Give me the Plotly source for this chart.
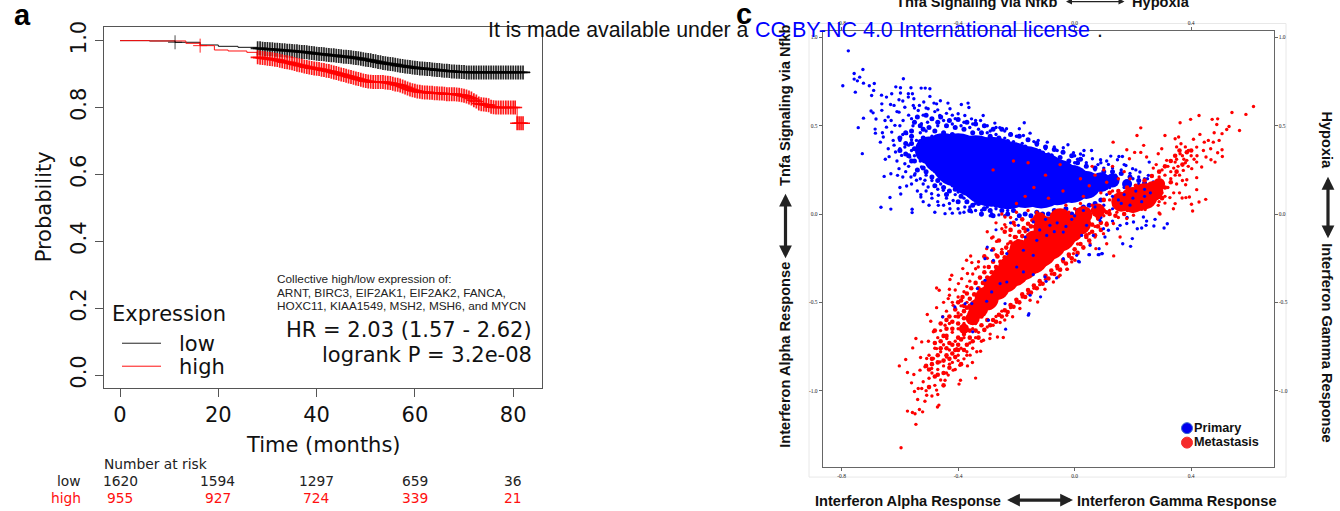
import plotly.graph_objects as go

W, H = 1340, 511
TOP = 40  # extra canvas above the window so the top caption can be cut by the window edge

# ---------- panel a data ----------
x_ticks_a = [0, 20, 40, 60, 80]
y_ticks_a = [0.0, 0.2, 0.4, 0.6, 0.8, 1.0]
low_early_t = [0, 6, 11.2, 16.3, 20, 24, 27.9]
low_early_p = [1, .999, .995, .987, .983, .980, .977]
high_early_t = [0, 6, 13.4, 16.3, 19.2, 22, 25.8, 27.9]
high_early_p = [1, .999, .992, .985, .972, .969, .965, .950]
low_single_t = [11.2]
low_single_p = [.995]
high_single_t = [16.3]
high_single_p = [.985]
low_t = [28,28.5,29,29.5,30,30.5,31,31.5,32,32.5, 33,33.5,34,34.5,35,35.5,36,36.5,37,37.5,
         38,38.5,39,39.5,40,40.5,41,41.5,42,42.5, 43,43.5,44,44.5,45,45.5,46,46.5,47,47.5,
         48,48.5,49,49.5,50,50.5,51,51.5,52,52.5, 53,53.5,54,54.5,55,55.5,56,56.5,57,57.5,
         58,58.5,59,59.5,60,60.5,61,61.5,62,62.5, 63,63.5,64,64.5,65,65.5,66,66.5,67,67.5,
         68,68.5,69,69.5,70,70.5,71,71.5,72,72.5, 73,73.5,74,74.5,75,75.5,76,76.5,77,77.5,
         78,78.5,79,79.5,80,80.5,81,81.5,82]
low_p = [.977,.977,.976,.975,.975,.974,.974,.973,.973,.972, .971,.971,.970,.970,.969,.968,.968,.967,.966,.966,
         .965,.964,.963,.962,.961,.960,.960,.959,.958,.957, .956,.956,.955,.954,.953,.952,.952,.951,.950,.949,
         .948,.947,.946,.944,.943,.942,.941,.939,.938,.936, .935,.933,.932,.931,.930,.929,.928,.926,.925,.924,
         .923,.922,.921,.920,.919,.918,.917,.917,.916,.915, .915,.914,.913,.912,.912,.911,.910,.910,.909,.908,
         .908,.907,.907,.906,.906,.905,.905,.905,.905,.905, .905,.905,.905,.905,.905,.905,.905,.905,.905,.905,
         .905,.905,.905,.905,.905,.905,.905,.905,.905]
low_end_t = [83.5]
low_end_p = [.905]
high_t = [28,28.5,29,29.5,30,30.5,31,31.5,32,32.5, 33,33.5,34,34.5,35,35.5,36,36.5,37,37.5,
          38,38.5,39,39.5,40,40.5,41,41.5,42,42.5, 43,43.5,44,44.5,45,45.5,46,46.5,47,47.5,
          48,48.5,49,49.5,50,50.5,51,51.5,52,52.5, 53,53.5,54,54.5,55,55.5,56,56.5,57,57.5,
          58,58.5,59,59.5,60,60.5,61,61.5,62,62.5, 63,63.5,64,64.5,65,65.5,66,66.5,67,67.5,
          68,68.5,69,69.5,70,70.5,71,71.5,72,72.5, 73,73.5,74,74.5,75,75.5,76,76.5,77,77.5,
          78,78.5,79,79.5,80,80.4, 80.8,81.2,81.6,82]
high_p = [.950,.949,.948,.947,.946,.945,.944,.943,.942,.940, .938,.936,.935,.934,.932,.930,.928,.926,.925,.923,
          .921,.920,.918,.917,.916,.915,.913,.912,.910,.909, .907,.905,.903,.901,.899,.897,.895,.893,.891,.889,
          .887,.885,.883,.881,.879,.878,.877,.876,.876,.876, .876,.876,.875,.874,.873,.871,.869,.868,.866,.863,
          .860,.857,.854,.852,.850,.848,.847,.846,.845,.845, .844,.844,.843,.843,.842,.842,.841,.840,.840,.840,
          .840,.839,.838,.837,.835,.833,.830,.827,.822,.818, .812,.810,.809,.808,.807,.802,.801,.800,.800,.800,
          .800,.800,.800,.800,.800,.800, .753,.753,.753,.753]
high_end_t = [82.9]
high_end_p = [.753]
risk_low = ["1620", "1594", "1297", "659", "36"]
risk_high = ["955", "927", "724", "339", "21"]

# ---------- panel c data ----------
x_ticks_c = [-0.8, -0.4, 0.0, 0.4]
x_labels_c = ["-0.8", "-0.4", "0.0", "0.4"]
y_ticks_c = [1.0, 0.5, 0.0, -0.5, -1.0]
y_labels_c = ["1.0", "0.5", "0.0", "-0.5", "-1.0"]

blue_core = [(-.50,.36),(-.45,.34),(-.40,.305),(-.34,.27),(-.285,.24),(-.23,.22),(-.17,.21),(-.115,.19),(-.06,.18),(-.01,.17),(.04,.165),(.09,.18),(.13,.19),(.18,.17)]
red_core = [(-.38,-.65),(-.35,-.59),(-.331,-.535),(-.302,-.479),(-.268,-.413),(-.239,-.366),(-.21,-.319),(-.182,-.281),(-.147,-.243),(-.119,-.205),
            (-.085,-.168),(-.05,-.121),(-.016,-.083),(.018,-.055),(-.10,-.08),(-.14,-.15),(-.19,-.2),(-.05,-.03),(.03,-.005),(.08,.02),(-.12,-.03),
            (.16,.07),(.20,.08),(.24,.10),(.27,.13),(.29,.17)]
blue_clumps = [(-.56,.47),(-.53,.50),(-.50,.49),(-.47,.52),(-.44,.50),(-.41,.49),(-.38,.48),(-.35,.46),(-.32,.46),(-.29,.44),(-.26,.43),(-.23,.41),(-.20,.39),(-.17,.38),
 (-.14,.36),(-.11,.345),(-.08,.33),(-.05,.32),(-.02,.30),(.01,.29),(.04,.27),(.07,.26),(.10,.24),(.13,.24),(.16,.23),(.19,.21),(.22,.19),(.24,.175),
 (-.56,.30),(-.54,.25),(-.51,.24),(-.49,.21),(-.47,.19),(-.45,.15),(-.43,.13),(-.41,.14),(-.39,.10),(-.37,.07),(-.35,.05),(-.33,.06),(-.31,.03),(-.29,.02),(-.27,.05),
 (-.25,.02),(-.23,.0),(-.21,.02),(-.19,-.01),(-.17,.0),(-.15,-.01),(-.13,.01),(-.11,.0),(-.09,.0),(-.07,.02),(-.05,.0),(-.03,.03),(-.01,.0),(.01,.02),(.03,.04),(.05,.05),(.07,.06),(.09,.08),
 (-.58,.40),(-.6,.43),(-.58,.46),(-.55,.37),(-.57,.33),(-.53,.41),(-.56,.44),(-.6,.36),
 (-.54,.55),(-.51,.56),(-.49,.54),(-.46,.55),(-.43,.53),(-.40,.535),(-.37,.52),(-.34,.51),(-.31,.50),(-.28,.48),(-.25,.48),(-.22,.45),(-.19,.44),(-.16,.42),(-.13,.40),(-.10,.38),(-.07,.365),
 (-.04,.35),(-.01,.33),(.02,.31),(-.55,.52),(-.52,.48),(-.48,.47),(-.45,.46),(-.42,.45),(-.56,.40),(-.53,.36),(-.50,.32),(-.47,.28),(-.44,.24),(-.52,.43),(-.49,.39),(-.46,.42),(-.58,.34),
 (-.55,.30),(-.52,.26),(-.48,.16),(-.44,.11),(-.40,.07),(-.36,.02),(-.32,.0),(-.28,-.01)]
red_clumps = [(-.40,-.50),(-.385,-.47),(-.37,-.45),(-.355,-.42),(-.34,-.39),(-.325,-.36),(-.31,-.33),(-.295,-.30),(-.28,-.27),(-.265,-.24),(-.25,-.22),(-.235,-.19),(-.22,-.16),
 (-.205,-.13),(-.19,-.10),(-.175,-.08),(-.16,-.055),(-.145,-.035),(-.13,-.02),(-.115,-.015),
 (-.31,-.655),(-.29,-.63),(-.27,-.61),(-.25,-.58),(-.23,-.555),(-.21,-.525),(-.19,-.50),(-.17,-.47),(-.15,-.445),(-.13,-.42),(-.11,-.395),(-.09,-.365),(-.07,-.34),(-.05,-.315),
 (-.03,-.28),(-.01,-.25),(.01,-.22),(.03,-.19),(.05,-.15),(.07,-.12),(.09,-.09),(.11,-.06),
 (-.46,-.72),(-.44,-.76),(-.42,-.79),(-.40,-.74),(-.38,-.77),(-.36,-.70),(-.44,-.69),(-.42,-.65),(-.40,-.62),(-.38,-.59),(-.36,-.56),(-.34,-.66),(-.32,-.63),(-.30,-.60),(-.43,-.58),
 (-.41,-.54),(-.39,-.49),(-.37,-.53),(-.45,-.83),(-.43,-.87),(-.41,-.81),(-.39,-.85),(-.47,-.80),(-.49,-.85),(-.47,-.91),(-.50,-.88),(-.45,-.97),
 (.10,.02),(.12,.0),(.14,-.01),(.17,.0),(.20,.02),(.23,.03),(.25,.06),(.27,.08),(.285,.10),(.10,.08),(.12,.12),(.15,.13),(.18,.15),(.21,.16),(.24,.19),(.265,.215),(.29,.24),(.31,.27),
 (.33,.30),(.345,.33),(.36,.36),(.385,.35),(.40,.36),(.37,.28),(.35,.24),(.33,.18),(.31,.15),(.30,.09),
 (-.48,-.73),(-.45,-.69),(-.43,-.73),(-.41,-.77),(-.39,-.71),(-.37,-.74),(-.35,-.72),(-.33,-.70),(-.44,-.65),(-.42,-.61),(-.40,-.58),(-.38,-.55),(-.36,-.52),(-.44,-.60),(-.46,-.62),(-.48,-.66),
 (-.46,-.76),(-.44,-.80),(-.42,-.74),(-.40,-.70),(-.38,-.68),(-.36,-.66),(-.34,-.60),(-.32,-.58),(-.40,-.77),(-.47,-.84),(-.45,-.90),(-.43,-.82),(-.49,-.82),(-.51,-.86),(-.48,-.92),(-.50,-.98),
 (-.02,-.02),(.02,-.03),(.05,-.01),(.08,-.02),(.11,.01),(.06,-.06),(.09,-.05),(.02,-.09),(.04,-.12),(.0,-.14),(-.18,-.03),(-.21,-.05),(-.24,-.10),(-.26,-.15),(-.22,-.09),(-.28,-.20),(-.31,-.24),
 (-.28,-.60),(-.26,-.57),(-.24,-.545),(-.22,-.515),(-.20,-.485),(-.18,-.455),(-.16,-.43),(-.14,-.405),(-.12,-.38),(-.10,-.35),(-.08,-.32),(-.06,-.295),(-.04,-.26),(-.02,-.23),(.0,-.20),(.02,-.17),(.04,-.13),(.06,-.10),(.08,-.07),
 (-.38,-.52),(-.36,-.48),(-.345,-.455),(-.33,-.42),(-.315,-.39),(-.30,-.36),(-.285,-.33),(-.27,-.30),(-.255,-.27),(-.24,-.245),(-.225,-.215),(-.21,-.185),(-.195,-.155),(-.18,-.125),(-.165,-.09),(-.15,-.07)]
blue_points = [(-.777,.924),(-.727,.818),(-.757,.796),(-.738,.775),(-.757,.764),(-.746,.754),(-.796,.726),(-.725,.741),(-.705,.726),(-.688,.739),
 (-.690,.700),(-.753,.690),(-.697,.671),(-.588,.766),(-.614,.720),(-.598,.715),(-.562,.715),(-.527,.713),(-.513,.713),(-.497,.709),
 (-.725,.543),(-.743,.489),(-.729,.342),(-.699,.583),(-.692,.573),(-.682,.538),(-.685,.481),(-.684,.458),(-.663,.673),(-.662,.624),
 (-.662,.587),(-.646,.662),(-.628,.681),(-.632,.620),(-.620,.615),(-.651,.530),(-.646,.492),(-.657,.436),(-.667,.407),(-.637,.325),
 (-.623,.417),(-.615,.351),(-.654,.213),(-.631,.228),(-.608,.219),(-.603,.257),(-.634,.094),(-.665,.038),(-.631,.028),(-.558,.027),
 (-.558,.008),(-.597,.113),(-.577,.159),(-.528,.110),(-.528,.096),(-.491,.115),(-.468,.106),(-.503,.153),(-.543,.191),(-.562,.210),
 (-.583,.285),(-.594,.332),(-.566,.323),(-.548,.228),(-.526,.266),(-.514,.191),(-.451,.134),(-.445,.002),(-.428,.030),(-.468,.049),
 (-.394,.006),(-.354,.012),(-.377,.040),(-.319,.021),(-.417,.077),(-.342,.059),(-.400,.125),(-.285,.002),
 (-.603,.647),(-.598,.685),(-.571,.681),(-.557,.681),(-.552,.653),(-.571,.662),(-.554,.615),(-.533,.615),(-.518,.634),(-.497,.666),
 (-.483,.628),(-.461,.641),(-.474,.624),(-.435,.628),(-.389,.620),(-.366,.628),(-.363,.603),(-.428,.596),(-.400,.568),(-.377,.558),
 (-.354,.539),(-.314,.558),(-.323,.530),(-.274,.515),(-.257,.489),(-.173,.517),(-.190,.483),(-.234,.483),(-.153,.458),(-.125,.417),
 (-.176,.445),(-.603,.577),(-.583,.605),(-.537,.586),(-.503,.596),(-.617,.502),(-.589,.530),(-.628,.464),(-.600,.417),(-.577,.455),
 (-.583,.379),(-.560,.360),(-.543,.417),(-.526,.511),(-.491,.539),(-.463,.558),
 (-.51,.47),(-.49,.44),(-.53,.46),(-.555,.50),(-.505,.52),(-.47,.50),(-.45,.53),(-.42,.51),(-.39,.50),(-.36,.49),(-.33,.48),(-.30,.46),(-.27,.45),
 (-.24,.43),(-.21,.41),(-.18,.40),(-.15,.37),(-.12,.36),(-.09,.34),(-.57,.39),(-.55,.33),(-.53,.30),(-.50,.27),(-.48,.24),(-.56,.42),(-.51,.22),(-.49,.19),
 (-.46,.17),(-.44,.20),(-.42,.16),(-.41,.11),(-.38,.09),(-.37,.13),(-.35,.10),(-.33,.08),(-.31,.07),(-.30,.04),(-.27,.03),(-.25,.05),(-.23,.02),
 (-.44,.09),(-.47,.14),(-.52,.17),(-.58,.24),(-.61,.30),(-.60,.37),(-.62,.39),(-.59,.45),(-.60,.50),(-.57,.56),(-.56,.54),(-.54,.55),(-.52,.56),
 (-.48,.58),(-.44,.57),(-.41,.54),(-.38,.52),(-.35,.51),(-.30,.50),(-.29,.47),(-.22,.455),(-.20,.44),(-.13,.39),(-.10,.37),(-.06,.36),(-.094,.407),(-.023,.392),(-.039,.375),
 (.032,.360),(.058,.360),(-.004,.347),(.030,.332),(.061,.313),(.089,.307),(.124,.328),(.152,.326),(.164,.326),(.147,.307),(.116,.281),(.176,.275),(.199,.257),(.224,.238),
 (.256,.294),(.253,.219),(.270,.181),(.01,.31),(.04,.29),(.08,.28),(.10,.26),(.13,.26),(.16,.25),(.19,.23),(.22,.21),(.24,.20),(.00,.29),(.07,.25),
 (-.59,.21),(-.57,.27),(-.55,.22),(-.53,.20),(-.51,.13),(-.49,.09),(-.47,.07),(-.45,.05),(-.43,.06),(-.40,.03),(-.38,.01),(-.36,.04),(-.34,.02),(-.32,-.005),(-.29,-.01),(-.26,-.005),(-.24,-.01),
 (-.54,.13),(-.56,.17),(-.60,.15),(-.52,.07),(-.50,.05),(-.48,.01),(-.42,.005),(-.65,.31),(-.64,.37),(-.66,.46),(-.64,.55),(-.63,.53),(-.61,.58),(-.59,.64),(-.55,.60),(-.51,.60),(-.47,.59),(-.42,.56),
 (-.34,.53),(-.27,.49),(-.24,.47),(-.16,.42),(-.14,.41),(-.07,.38),(.0,.33),(.02,.34),(.09,.29),(.11,.30),(.17,.28),(.21,.25),
 (.307,-.079),(.318,-.055),(.276,-.030),(.272,-.068),(.245,-.064),(.247,-.040),(.230,-.079),(.215,-.083),(.192,-.183),(.198,-.139),(.165,-.168),(.093,-.224),(.081,-.230),
 (.049,-.230),(.016,-.271),(.156,-.064),(.147,-.083),(.116,-.092),(.179,-.054),(.104,-.130),(.202,-.045),(.236,-.017),
 (.14,.22),(.2,.2),(.22,.17),(.17,.15),(.25,.2),(.12,.15),(.16,.03),(.2,.06),(.1,.05),(.06,.02),(.09,-.02),(.13,-.04),(.18,-.02)]
red_points = [(.614,.609),(.588,.564),(.540,.575),(.427,.558),(.398,.536),(.362,.517),(.472,.536),(.491,.539),(.488,.507),(.530,.496),
 (.522,.479),(.566,.473),(.479,.460),(.506,.455),(.227,.488),(.214,.445),(.310,.445),(.132,.407),(.237,.389),(.179,.364),(.206,.349),(.227,.349),
 (.188,.313),(.247,.323),(.287,.341),(.299,.370),(.345,.426),(.357,.436),(.365,.398),(.408,.423),(.430,.451),(.445,.407),(.459,.417),(.476,.407),
 (.496,.417),(.467,.370),(.491,.347),(.506,.364),(.507,.326),(.482,.294),(.468,.307),(.451,.323),(.442,.360),(.419,.379),(.390,.360),(.362,.341),
 (.385,.304),(.419,.294),(.436,.266),(.402,.257),(.419,.206),(.373,.247),(.345,.294),(.316,.304),(.385,.194),(.381,.166),(.419,.138),(.394,.096),
 (.382,.093),(.369,.091),(.450,.083),(.427,.068),(.401,.055),(.405,.017),(.345,.059),(.339,.030),(.310,.062),(.293,0),(.327,.093),(.282,.134),(.287,.049),(.134,-.237),
 (.30,.25),(.32,.27),(.34,.26),(.35,.31),(.37,.33),(.38,.29),(.36,.22),(.33,.20),(.35,.17),(.32,.15),(.30,.12),(.34,.12),(.36,.12),(.31,.22),(.29,.21),
 (.33,.24),(.355,.27),(.375,.31),(.40,.33),(.39,.27),(.41,.31),(.37,.19),(.345,.22),(.29,.07),(.31,.10),(.27,.26),(.28,.28),(.35,.38),(.38,.38),(.42,.33),
 (.290,.006),(.276,.096),(.259,.049),(.242,.025),(.202,-.007),(.179,-.026),(.156,-.130),(.110,-.168),(.073,-.196),(.053,-.168),(.001,-.262),(-.025,-.313),(-.050,-.347),
 (-.004,-.224),(.030,-.187),(.070,-.130),(.099,-.111),(.133,-.054),
 (.02,.2),(.05,.16),(.07,.22),(.09,.12),(.11,.18),(.12,.08),(.03,.1),(.06,.05),(.0,.03),(.04,-.02),(.09,.02),(.13,.13),(.15,.2),(.17,.24),(.19,.2),(.1,.25),(.13,.27),
 (-.03,.05),(-.06,.02),(-.09,.09),(-.04,.13),(.02,.06),(.08,-.03),(.11,-.05),(.15,-.02),(.18,.02),(.16,.1),(.06,.27),(-.05,.28),(-.1,.22),(-.14,.15),(-.17,.1),(-.2,.06),
 (-.28,.25),(-.21,.3),(-.16,.29),(-.02,.01),(.01,-.01),(.035,.03),(.07,.0),(.1,-.01),(.12,.02),(.145,.01),(.05,-.05),(.01,-.05),(-.03,-.02),(.04,-.09),(.07,-.07),(.02,-.12),(.05,-.11),(-.02,-.15),
 (.01,-.17),(-.04,-.19),(-.01,-.10),(-.13,.01),(-.16,.02),(-.2,.01),(-.25,.0),(-.22,-.02),(-.27,-.05),(-.30,-.10),(-.24,-.06),(-.28,-.13),
 (-.596,-1.323),(-.545,-1.191),(-.574,-1.116),(-.557,-1.124),(-.548,-1.131),(-.533,-1.107),(-.522,-1.120),(-.466,-1.082),(-.471,-1.093),(-.539,-1.050),(-.514,-1.060),(-.508,-1.026),
 (-.470,-1.022),(-.550,-1.005),(-.537,-.988),(-.525,-.988),(-.560,-.956),(-.552,-.909),(-.574,-.897),(-.602,-.860),(-.580,-.824),(-.531,-.884),(-.514,-.865),(-.529,-.812),
 (-.556,-.758),(-.545,-.705),(-.525,-.724),(-.508,-.818),(-.491,-.875),(-.474,-.997),(-.445,-.941),(-.397,-.963),(-.392,-.941),(-.340,-.929),(-.434,-.912),(-.417,-.884),
 (-.462,-.837),(-.485,-.818),(-.474,-.762),(-.502,-.720),(-.485,-.667),(-.494,-.607),(-.506,-.569),(-.474,-.530),(-.453,-.582),(-.474,-.419),(-.465,-.432),(-.430,-.426),
 (-.428,-.371),(-.422,-.347),(-.399,-.394),(-.388,-.366),(-.368,-.337),(-.384,-.309),(-.353,-.275),(-.371,-.262),(-.357,-.238),(-.331,-.300),(-.434,-.479),(-.417,-.517),
 (-.445,-.630),(-.439,-.705),(-.405,-.762),(-.359,-.799),(-.368,-.860),(-.394,-.856),(-.351,-.841),(-.336,-.780),(-.323,-.777),(-.313,-.715),(-.291,-.705),(-.265,-.696),
 (-.245,-.699),(-.256,-.614),(-.233,-.573),(-.213,-.582),(-.188,-.535),(-.153,-.488),(-.127,-.498),(-.102,-.426),(-.073,-.385),(-.056,-.356),(-.027,-.313),(-.010,-.271),
 (-.302,-.196),(-.285,-.136),(-.268,-.155),(-.250,-.083),(-.239,-.017),(-.236,-.074),(-.205,-.064),(-.222,-.121),
 (-.46,-.78),(-.45,-.74),(-.44,-.81),(-.43,-.77),(-.42,-.84),(-.41,-.72),(-.40,-.80),(-.39,-.76),(-.38,-.70),(-.37,-.78),(-.36,-.73),(-.35,-.76),(-.34,-.70),(-.42,-.67),(-.40,-.65),(-.38,-.62),
 (-.43,-.62),(-.41,-.58),(-.39,-.57),(-.37,-.66),(-.36,-.60),(-.35,-.65),(-.34,-.62),(-.33,-.67),(-.32,-.72),(-.31,-.66),(-.30,-.64),(-.29,-.68),(-.28,-.63),(-.47,-.70),(-.48,-.76),(-.50,-.80),
 (-.49,-.90),(-.47,-.88),(-.45,-.86),(-.44,-.90),(-.46,-.94),(-.48,-.97),(-.50,-.93),(-.52,-.95),(-.51,-1.0),(-.49,-1.03),(-.43,-.85),(-.41,-.88),(-.40,-.83),(-.38,-.82),(-.37,-.80),(-.46,-.66),
 (-.44,-.55),(-.42,-.50),(-.40,-.47),(-.41,-.43),(-.39,-.52),(-.38,-.44),(-.37,-.41),(-.36,-.38),(-.35,-.34),(-.34,-.31),(-.33,-.27),(-.37,-.50),(-.45,-.50),(-.43,-.46),(-.40,-.56),
 (-.27,-.58),(-.25,-.55),(-.24,-.60),(-.22,-.53),(-.20,-.50),(-.18,-.47),(-.16,-.45),(-.14,-.42),(-.12,-.40),(-.10,-.37),(-.08,-.34),(-.06,-.31),(-.04,-.27),(-.02,-.24),(0,-.20),
 (-.31,-.30),(-.30,-.25),(-.27,-.23),(-.25,-.20),(-.23,-.17),(-.20,-.13),(-.17,-.10),(-.14,-.07),(-.11,-.04),(-.08,-.02)]
blue_over_red = [(-.270,-.089),(-.300,-.187),(-.285,-.205),(-.308,-.253),(-.279,-.262),(-.334,-.422),(-.308,-.375),(-.256,-.394),(-.233,-.385),(-.376,-.507),
 (-.353,-.507),(-.411,-.526),(-.453,-.582),(-.296,-.601),(-.350,-.667),(-.237,-.652),(-.157,-.564),(-.159,-.573),(-.117,-.469),(-.302,-.494),(-.239,-.507),(-.285,-.441),
 (-.153,-.460),(-.098,-.381),(-.062,-.362),(-.102,-.356),(-.142,-.343),(-.176,-.328),(-.199,-.300),(-.233,-.224),(-.176,-.205),(-.142,-.234),(-.170,-.130),(-.130,-.149),
 (-.096,-.121),(-.193,-.064),(-.142,-.045),(-.039,-.253),(.013,-.268),(.051,-.230),(.084,-.230),(.095,-.224),(.084,-.196),(.053,-.177),(.007,-.234),(.024,-.121),(.064,-.121),
 (.099,-.083),(-.039,-.102),(-.085,-.064),(.041,-.064),(.087,-.036),(-.12,-.09),(-.07,-.10),(-.03,-.07),(-.10,-.03),(-.06,-.05),(-.01,-.03),(-.16,-.09),(-.20,-.03),(-.22,-.05),
 (.13,.10),(.17,.11),(.21,.13),(.24,.14),(.15,.08),(.19,.05),(.23,.07),(.11,.11),(.26,.12),(.20,.09),(.16,.06),(.13,.03),(.24,.10),(.03,.02),(.07,.04),(.0,-.01)]
blue_core_size = [28, 42, 54, 62, 70, 68, 62, 56, 46, 38, 28, 20, 14, 10]
red_core_size = [10, 14, 20, 24, 26, 28, 32, 34, 34, 34, 32, 32, 28, 22, 24, 20, 20, 22, 18, 14, 14, 20, 26, 26, 20, 12]

def xs(p): return [a for a, _ in p]
def ys(p): return [b for _, b in p]
FH = H + TOP
def px(x): return x / W
def py(y): return 1 - ((y - 5) * 1.01 + TOP) / FH

fig = go.Figure()

BLACK_SANS = "DejaVu Sans"
ARIAL = "Liberation Sans"

# panel a
fig.add_trace(go.Scatter(x=low_early_t + low_t + low_end_t, y=low_early_p + low_p + low_end_p, mode="lines",
                         line=dict(color="#111111", width=1, shape="hv"), xaxis="x", yaxis="y", showlegend=False))
fig.add_trace(go.Scatter(x=high_early_t + high_t + high_end_t, y=high_early_p + high_p + high_end_p, mode="lines",
                         line=dict(color="#ff1010", width=1, shape="hv"), xaxis="x", yaxis="y", showlegend=False))
fig.add_trace(go.Scatter(x=low_single_t, y=low_single_p, mode="markers",
                         marker=dict(symbol="cross-thin", size=10, line=dict(color="rgba(0,0,0,.7)", width=1)), xaxis="x", yaxis="y", showlegend=False))
fig.add_trace(go.Scatter(x=high_single_t, y=high_single_p, mode="markers",
                         marker=dict(symbol="cross-thin", size=10, line=dict(color="rgba(255,0,0,.85)", width=1)), xaxis="x", yaxis="y", showlegend=False))
fig.add_trace(go.Scatter(x=low_t, y=low_p, mode="markers",
                         marker=dict(symbol="cross-thin", size=10, line=dict(color="rgba(0,0,0,.85)", width=1.7)), xaxis="x", yaxis="y", showlegend=False))
fig.add_trace(go.Scatter(x=high_t, y=high_p, mode="markers",
                         marker=dict(symbol="cross-thin", size=10, line=dict(color="rgba(255,0,0,.9)", width=1.7)), xaxis="x", yaxis="y", showlegend=False))

# panel c
def dots(p, color, size):
    fig.add_trace(go.Scatter(x=xs(p), y=ys(p), mode="markers", marker=dict(color=color, size=size, opacity=1, line=dict(width=0)),
                             xaxis="x2", yaxis="y2", showlegend=False))

dots(blue_core, "#0000ff", blue_core_size)
dots(blue_clumps, "#0000ff", 5)
dots(blue_points, "#0000ff", 3.4)
dots(red_core, "#ff0000", red_core_size)
dots(red_clumps, "#ff0000", 4.6)
dots(red_points, "#ff0000", 3.4)
dots(blue_over_red, "#0000ff", 3.2)
fig.add_trace(go.Scatter(x=[], y=[], xaxis="x3", yaxis="y3", showlegend=False))

axis_a = dict(showgrid=False, zeroline=False, showline=True, linecolor="#555555", linewidth=1, mirror=True,
              ticks="outside", ticklen=8, tickcolor="#555555", tickfont=dict(family=BLACK_SANS, size=21, color="#111111"))
axis_c = dict(showgrid=False, zeroline=False, showline=True, linecolor="#666666", linewidth=1,
              ticks="outside", ticklen=3, tickcolor="#666666", tickwidth=.6,
              tickfont=dict(family="Liberation Serif", size=5.5, color="#222222"))

fig.update_layout(
    width=W, height=FH, autosize=False, margin=dict(l=0, r=0, t=0, b=0), paper_bgcolor="white", plot_bgcolor="white",
    showlegend=False,
    xaxis=dict(axis_a, domain=[px(103.6), px(542)], range=[-3.34, 85.86], tickvals=x_ticks_a, anchor="y"),
    yaxis=dict(axis_a, domain=[py(388), py(26.7)], range=[-0.039, 1.04], tickvals=y_ticks_a, tickformat=".1f", tickangle=-90, anchor="x"),
    xaxis2=dict(axis_c, domain=[px(822.7), px(1273.6)], range=[-.865, .683], tickvals=x_ticks_c, ticktext=x_labels_c, anchor="y2"),
    yaxis2=dict(axis_c, domain=[py(467), py(30.7)], range=[-1.433, 1.035], tickvals=y_ticks_c, ticktext=y_labels_c, anchor="x2"),
    xaxis3=dict(axis_c, domain=[px(822.7), px(1273.6)], range=[-.865, .683], tickvals=x_ticks_c, ticktext=x_labels_c, anchor="y3", overlaying="x2", side="top"),
    yaxis3=dict(axis_c, domain=[py(467), py(30.7)], range=[-1.433, 1.035], tickvals=y_ticks_c, ticktext=y_labels_c, anchor="x3", overlaying="y2", side="right"),
)

def text(t, x, y, size, family=BLACK_SANS, color="#111111", anchor="center", angle=0, bold=False):
    fig.add_annotation(text=f"<b>{t}</b>" if bold else t, x=px(x), y=py(y), xref="paper", yref="paper", showarrow=False,
                       xanchor=anchor, yanchor="middle", textangle=angle, font=dict(family=family, size=size, color=color), borderpad=0, borderwidth=0)

def arrow(x0, y0, x1, y1, width=3.2, size=.8, color="#222222"):
    fig.add_annotation(x=px(x1), y=py(y1), xref="paper", yref="paper", ax=x0 - x1, ay=y0 - y1, axref="pixel", ayref="pixel", text="",
                       showarrow=True, arrowhead=2, arrowside="end+start", arrowsize=size, arrowwidth=width, arrowcolor=color)

# panel a texts
text("a", 22, 14, 29, ARIAL, "black", bold=True)
text("Probability", 44, 207, 21, angle=-90)
text("Time (months)", 323, 445, 21)
text("Expression", 169, 314, 21)
text("low", 179, 344, 21, anchor="left")
text("high", 179, 367, 21, anchor="left")
fig.add_shape(type="line", xref="paper", yref="paper", x0=px(122), x1=px(161), y0=py(343), y1=py(343), line=dict(color="#222222", width=1))
fig.add_shape(type="line", xref="paper", yref="paper", x0=px(122), x1=px(161), y0=py(366), y1=py(366), line=dict(color="#ff1010", width=1))
text("Collective high/low expression of:", 276.5, 279, 11.8, ARIAL, "#222222", "left")
text("ARNT, BIRC3, EIF2AK1, EIF2AK2, FANCA,", 276.5, 292.5, 11.8, ARIAL, "#222222", "left")
text("HOXC11, KIAA1549, MSH2, MSH6, and MYCN", 276.5, 306, 11.8, ARIAL, "#222222", "left")
text("HR = 2.03 (1.57 - 2.62)", 532, 330, 21, anchor="right")
text("logrank P = 3.2e-08", 532, 355, 21, anchor="right")
text("Number at risk", 104, 464, 13.8, anchor="left", color="#222222")
text("low", 81, 481, 13.8, anchor="right", color="#222222")
text("high", 81, 498, 13.8, anchor="right", color="#ff1010")
for xp, a, b in zip([120, 218, 316.4, 415, 513], risk_low, risk_high):
    text(a, xp, 481, 13.8, color="#222222")
    text(b, xp, 498, 13.8, color="#ff1010")

# panel c texts
fig.add_shape(type="rect", xref="paper", yref="paper", x0=px(809), x1=px(1286), y0=py(477), y1=py(23), line=dict(color="#e8e8e8", width=1), layer="below")
text("c", 744, 13, 29, ARIAL, "black", bold=True)
text("Tnfa Signaling via Nfkb", 896, 1, 14.6, ARIAL, "#111111", "left", bold=True)
text("Hypoxia", 1132, 1, 14.6, ARIAL, "#111111", "left", bold=True)
arrow(1064.5, 1, 1124.5, 1, 1.2, 1)
text("Tnfa Signaling via Nfkb", 785.5, 105, 14.6, ARIAL, "#111111", angle=-90, bold=True)
text("Interferon Alpha Response", 785.5, 355, 14.6, ARIAL, "#111111", angle=-90, bold=True)
arrow(785.5, 192, 785.5, 258)
text("Hypoxia", 1327, 140, 14.6, ARIAL, "#111111", angle=90, bold=True)
text("Interferon Gamma Response", 1327, 343, 14.6, ARIAL, "#111111", angle=90, bold=True)
arrow(1328, 175, 1328, 238)
text("Interferon Alpha Response", 815, 501, 14.6, ARIAL, "#111111", "left", bold=True)
text("Interferon Gamma Response", 1077, 501, 14.6, ARIAL, "#111111", "left", bold=True)
arrow(1005.6, 500, 1073, 500)
fig.add_shape(type="circle", xref="paper", yref="paper", x0=px(1181.5), x1=px(1192.5), y0=py(433.5), y1=py(422.5), fillcolor="#0000ee", line=dict(color="#3a6ad0", width=1))
fig.add_shape(type="circle", xref="paper", yref="paper", x0=px(1181.5), x1=px(1192.5), y0=py(448), y1=py(437), fillcolor="#f52a2a", line=dict(color="#f52a2a", width=1))
text("Primary", 1194, 428, 12.7, ARIAL, "#111111", "left", bold=True)
text("Metastasis", 1194, 442, 12.7, ARIAL, "#111111", "left", bold=True)

# page overlay text
text("It is made available under a", 488, 29, 21.3, ARIAL, "#111111", "left")
text("CC BY-NC 4.0 International license", 755, 29, 21.5, ARIAL, "#0000ff", "left")
text(".", 1097, 29, 21.3, ARIAL, "#111111", "left")

fig.write_html("out.html", config={"displayModeBar": False},
               post_script=f"document.body.style.margin='-{TOP}px 0 0 0';document.documentElement.style.overflow='hidden';")
